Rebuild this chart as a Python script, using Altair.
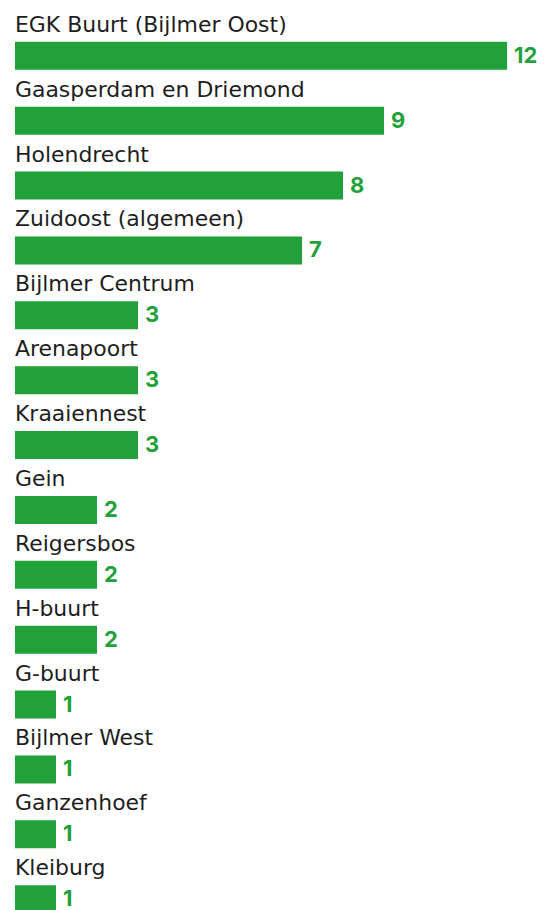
import altair as alt
import pandas as pd

categories = [
    "EGK Buurt (Bijlmer Oost)", "Gaasperdam en Driemond", "Holendrecht",
    "Zuidoost (algemeen)", "Bijlmer Centrum", "Arenapoort", "Kraaiennest",
    "Gein", "Reigersbos", "H-buurt", "G-buurt", "Bijlmer West",
    "Ganzenhoef", "Kleiburg",
]
values = [12, 9, 8, 7, 3, 3, 3, 2, 2, 2, 1, 1, 1, 1]

df = pd.DataFrame({"cat": categories, "val": values})

GREEN = "#22A03A"

y = alt.Y("cat:N", sort=categories, axis=None,
          scale=alt.Scale(paddingInner=0.569, paddingOuter=0))
x = alt.X("val:Q", axis=None, scale=alt.Scale(domain=[0, 12], nice=False))

base = alt.Chart(df)

bars = base.mark_bar(color=GREEN).encode(x=x, y=y)

values_txt = base.mark_text(
    align="left", baseline="alphabetic", dx=7, dy=7,
    font="Inter", fontWeight="bold", fontSize=22, color=GREEN,
).encode(x=x, y=y, text="val:Q")

labels = base.mark_text(
    align="left", baseline="alphabetic", dy=-24,
    font="DejaVu Sans", fontSize=22, color="#1e1e1e",
).encode(x=alt.value(0), y=y, text="cat:N")

chart = (bars + values_txt + labels).properties(
    width=493, height=873,
    padding={"left": 7, "top": 33, "right": 30, "bottom": 0},
    autosize=alt.AutoSizeParams(type="none"),
).configure_view(stroke=None)

chart.save("out.html", embed_options={"renderer": "svg", "actions": False})
